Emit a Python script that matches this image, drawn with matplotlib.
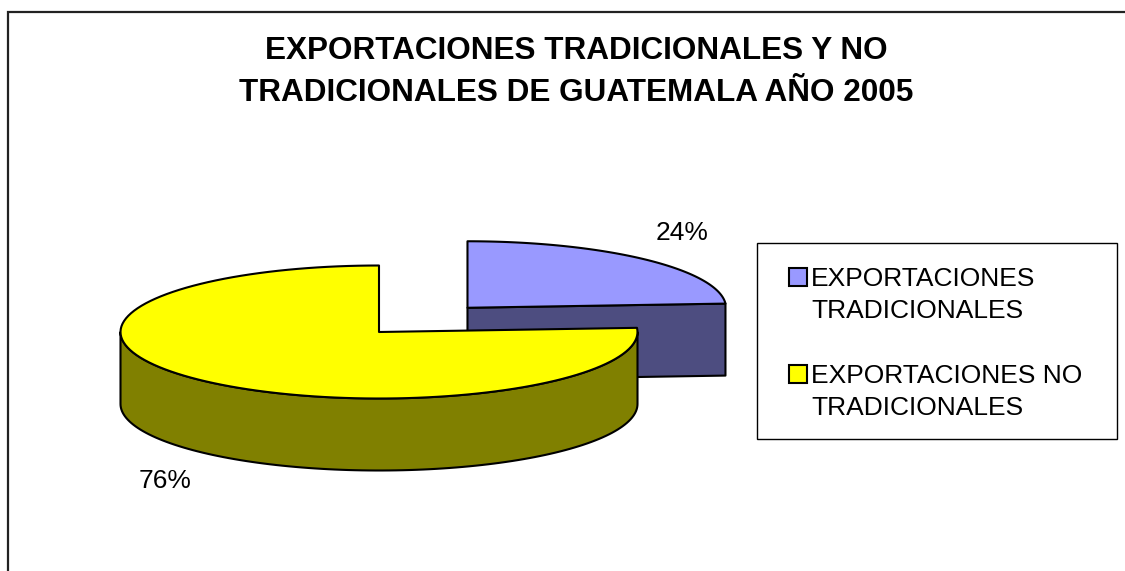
import numpy as np
import matplotlib
matplotlib.use("Agg")
import matplotlib.pyplot as plt
from matplotlib.patches import Polygon, Rectangle

plt.rcParams["font.family"] = ["Liberation Sans", "DejaVu Sans"]

# chart data
title = "EXPORTACIONES TRADICIONALES Y NO\nTRADICIONALES DE GUATEMALA AÑO 2005"
categories = ["EXPORTACIONES\nTRADICIONALES", "EXPORTACIONES NO\nTRADICIONALES"]
shares = [24, 76]
top_colors = ["#9999FF", "#FFFF00"]
side_colors = ["#4D4D80", "#808000"]
explode = [0.5, 0.0]

# pie layout (pixel units of the 1125x571 canvas)
CX, CY = 379, 332
RX, RY = 258.5, 66.5
DEPTH = 72
START = 90.0          # first slice starts at 12 o'clock, goes clockwise
LABEL_R = 1.21
LABEL_PAD = 16
EDGE = dict(edgecolor="black", linewidth=1.5, joinstyle="round")


def rim(t, ox, oy, h=0.0, r=1.0):
    t = np.radians(t)
    return CX + ox + r * RX * np.cos(t), CY + oy - r * RY * np.sin(t) + h


def arc(a, b, ox, oy, h=0.0, n=120):
    ts = np.linspace(a, b, n)
    xs, ys = rim(ts, ox, oy, h)
    return np.column_stack([xs, ys])


def front_parts(t1, t0):
    """parts of [t1, t0] where the outer wall faces the viewer (sin < 0)"""
    parts = []
    k = np.floor((t1 - 360) / 360)
    while 180 + 360 * k < t0:
        a, b = max(t1, 180 + 360 * k), min(t0, 360 + 360 * k)
        if b > a:
            parts.append((a, b))
        k += 1
    return parts


fig = plt.figure(figsize=(11.25, 5.71), dpi=100)
ax = fig.add_axes([0, 0, 1, 1])
ax.set_xlim(0, 1125)
ax.set_ylim(571, 0)
ax.axis("off")

# outer chart frame
ax.add_patch(Rectangle((8, 12), 1125, 571, facecolor="white",
                       edgecolor="#222222", linewidth=1.6, zorder=0))

fracs = np.array(shares, dtype=float) / sum(shares)
slices = []
t0 = START
for i, f in enumerate(fracs):
    t1 = t0 - 360 * f
    mid = (t0 + t1) / 2
    ox = explode[i] * RX * np.cos(np.radians(mid))
    oy = -explode[i] * RY * np.sin(np.radians(mid))
    slices.append((i, t0, t1, mid, ox, oy))
    t0 = t1

# back slices first
z = 1
for i, t0, t1, mid, ox, oy in sorted(slices, key=lambda s: s[5]):
    c = (CX + ox, CY + oy)
    # cut faces
    for t, visible in ((t0, np.cos(np.radians(t0)) < -1e-9),
                       (t1, np.cos(np.radians(t1)) > 1e-9)):
        if visible:
            p_top = rim(t, ox, oy)
            p_bot = rim(t, ox, oy, DEPTH)
            ax.add_patch(Polygon([c, p_top, p_bot, (c[0], c[1] + DEPTH)],
                                 facecolor=side_colors[i], zorder=z, **EDGE))
            z += 1
    # outer wall
    for a, b in front_parts(t1, t0):
        pts = np.vstack([arc(a, b, ox, oy), arc(b, a, ox, oy, DEPTH)])
        ax.add_patch(Polygon(pts, facecolor=side_colors[i], zorder=z, **EDGE))
        z += 1
    # top
    pts = np.vstack([[c], arc(t0, t1, ox, oy)])
    ax.add_patch(Polygon(pts, facecolor=top_colors[i], zorder=z, **EDGE))
    z += 1

# percentage labels
for i, t0, t1, mid, ox, oy in slices:
    x, y = rim(mid, ox, oy, r=LABEL_R)
    if np.sin(np.radians(mid)) < 0:
        y += DEPTH + LABEL_PAD + 2
    else:
        y -= LABEL_PAD
    ax.text(x, y, f"{shares[i]:.0f}%", ha="center", va="center",
            fontsize=19, zorder=20)

ax.text(576, 72, title, ha="center", va="center", fontsize=22.7,
        fontweight="bold", linespacing=1.48)

# legend
ax.add_patch(Rectangle((757, 243), 360, 196, facecolor="white",
                       edgecolor="black", linewidth=1.0, zorder=20))
for k, lab in enumerate(categories):
    y0 = 268 + k * 97
    ax.add_patch(Rectangle((789, y0), 18, 18, facecolor=top_colors[k],
                           edgecolor="black", linewidth=1.5, zorder=21))
    ax.text(811, y0 + 27, lab, ha="left", va="center", fontsize=19,
            linespacing=1.37, zorder=21)

fig.savefig("out.png", dpi=100)
